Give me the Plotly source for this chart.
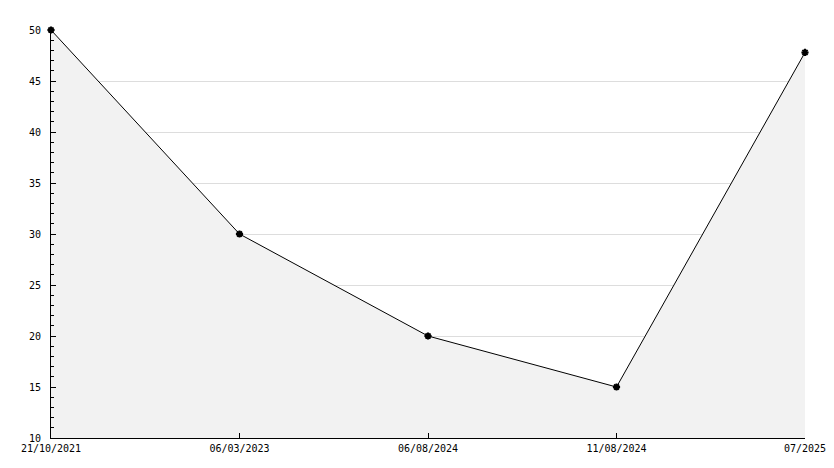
import plotly.graph_objects as go

dates = ["21/10/2021", "06/03/2023", "06/08/2024", "11/08/2024", "07/2025"]
values = [50, 30, 20, 15, 47.8]
y_ticks = [10, 15, 20, 25, 30, 35, 40, 45, 50]

fig = go.Figure()
fig.add_trace(go.Scatter(
    x=dates, y=values, mode="lines+markers",
    line=dict(color="black", width=1),
    marker=dict(symbol="asterisk-open", size=6, color="black", line=dict(color="black", width=2)),
    fill="tozeroy", fillcolor="#f2f2f2",
    cliponaxis=False,
    hoverinfo="x+y",
))

font = dict(family="DejaVu Sans Mono", size=10, color="black")
fig.update_layout(
    width=834, height=468,
    margin=dict(l=51, r=29, t=30, b=30, autoexpand=False),
    paper_bgcolor="white", plot_bgcolor="white",
    showlegend=False,
    font=font,
    xaxis=dict(
        type="category", range=[0, len(dates) - 1],
        automargin=False,
        showline=True, linecolor="black", linewidth=1,
        ticks="inside", ticklen=5, tickcolor="black",
        showgrid=False, zeroline=False,
        tickfont=font, ticklabelstandoff=1,
    ),
    yaxis=dict(
        range=[10, 50], tickvals=y_ticks,
        automargin=False,
        showline=True, linecolor="black", linewidth=1,
        ticks="inside", ticklen=5, tickcolor="black",
        showgrid=True, gridcolor="#dddddd", gridwidth=1,
        zeroline=False,
        tickfont=font, ticklabelstandoff=7,
        minor=dict(dtick=1, ticks="inside", ticklen=3, tickcolor="black", showgrid=False),
    ),
)

fig.write_html(
    "out.html",
    config={"displayModeBar": False},
    post_script="document.body.style.margin='0';document.body.style.overflow='hidden';",
)
